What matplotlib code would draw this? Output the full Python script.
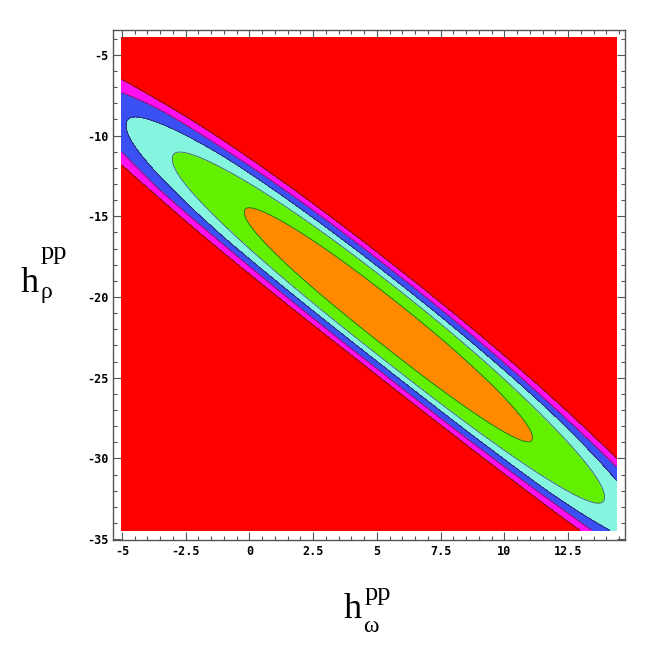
import matplotlib
matplotlib.use("Agg")
import matplotlib.pyplot as plt
import numpy as np
from matplotlib.ticker import MultipleLocator

# Contour field description (data units)
center = (5.45, -21.96)          # centre of the innermost region
axis_slope = -1.2356             # line through the tips of the ellipses
half_length = 5.65               # half length of the orange region along x
bow_height = 0.38                # the bands bow up in the middle
bow_span = 9.0                   # distance from the centre where the bow is zero
tip_power = 2.2                  # slightly blunt ends
levels_r = [1.0, 1.5, 1.82, 2.1, 2.37]
half_widths = [1.66, 2.52, 2.96, 3.42, 3.82]     # vertical half widths at the centre
band_colors = ['#FF8A00', '#62F000', '#86F5DF', '#3A50F2', '#FF10F0', '#FF0000']

x_range = (-5.0, 14.4)
y_range = (-34.45, -3.95)
x_ticks = [-5, -2.5, 0, 2.5, 5, 7.5, 10, 12.5]
x_tick_labels = ['-5', '-2.5', '0', '2.5', '5', '7.5', '10', '12.5']
y_ticks = [-35, -30, -25, -20, -15, -10, -5]
y_tick_labels = ['-35', '-30', '-25', '-20', '-15', '-10', '-5']

# cross-section profile: distance from the spine -> normalised distance
slope_out = (levels_r[-1] - levels_r[-2]) / (half_widths[-1] - half_widths[-2])
d_knots = [0.0] + half_widths + [40.0]
r_knots = [0.0] + levels_r + [levels_r[-1] + (40 - half_widths[-1]) * slope_out]

x = np.linspace(*x_range, 900)
y = np.linspace(*y_range, 900)
X, Y = np.meshgrid(x, y)
dx = X - center[0]
spine = center[1] + axis_slope * dx + bow_height * (1 - (dx / bow_span) ** 2)
phi = np.interp(np.abs(Y - spine), d_knots, r_knots)
R = (np.abs(dx / half_length) ** tip_power + phi ** tip_power) ** (1 / tip_power)

fig = plt.figure(figsize=(6.65, 6.54), dpi=100)
ax = fig.add_axes([113 / 665, (654 - 540) / 654, (625 - 113) / 665, (540 - 30) / 654])

bounds = [0] + levels_r + [1e3]
ax.contourf(X, Y, R, levels=bounds, colors=band_colors)
ax.contour(X, Y, R, levels=levels_r, colors='#202020', linewidths=0.6, alpha=0.7)

ax.set_xlim(-5.35, 14.73)
ax.set_ylim(-35.05, -3.46)
ax.set_xticks(x_ticks)
ax.set_xticklabels(x_tick_labels)
ax.set_yticks(y_ticks)
ax.set_yticklabels(y_tick_labels)
ax.xaxis.set_minor_locator(MultipleLocator(0.5))
ax.yaxis.set_minor_locator(MultipleLocator(1))
ax.tick_params(which='both', direction='in', top=True, right=True, color='#555555',
               labelsize=8.5, width=0.8)
ax.tick_params(which='major', length=6)
ax.tick_params(which='minor', length=3)
for lab in ax.get_xticklabels() + ax.get_yticklabels():
    lab.set_family('DejaVu Sans Mono')
    lab.set_fontweight('bold')
for sp in ax.spines.values():
    sp.set_color('#555555')
    sp.set_linewidth(1.0)


def px(xp, yp):
    return xp / 665, 1 - yp / 654


serif = 'Liberation Serif'
# x axis label  h_omega^pp
fig.text(*px(344, 618), 'h', fontsize=26, family=serif, va='baseline')
fig.text(*px(365, 600), 'pp', fontsize=19, family=serif, va='baseline')
fig.text(*px(363, 632), 'ω', fontsize=17, family=serif, va='baseline')
# y axis label  h_rho^pp
fig.text(*px(21, 292), 'h', fontsize=26, family=serif, va='baseline')
fig.text(*px(41, 259), 'pp', fontsize=19, family=serif, va='baseline')
fig.text(*px(40, 298), 'ρ', fontsize=17, family=serif, va='baseline')

fig.savefig('out.png', dpi=100)
